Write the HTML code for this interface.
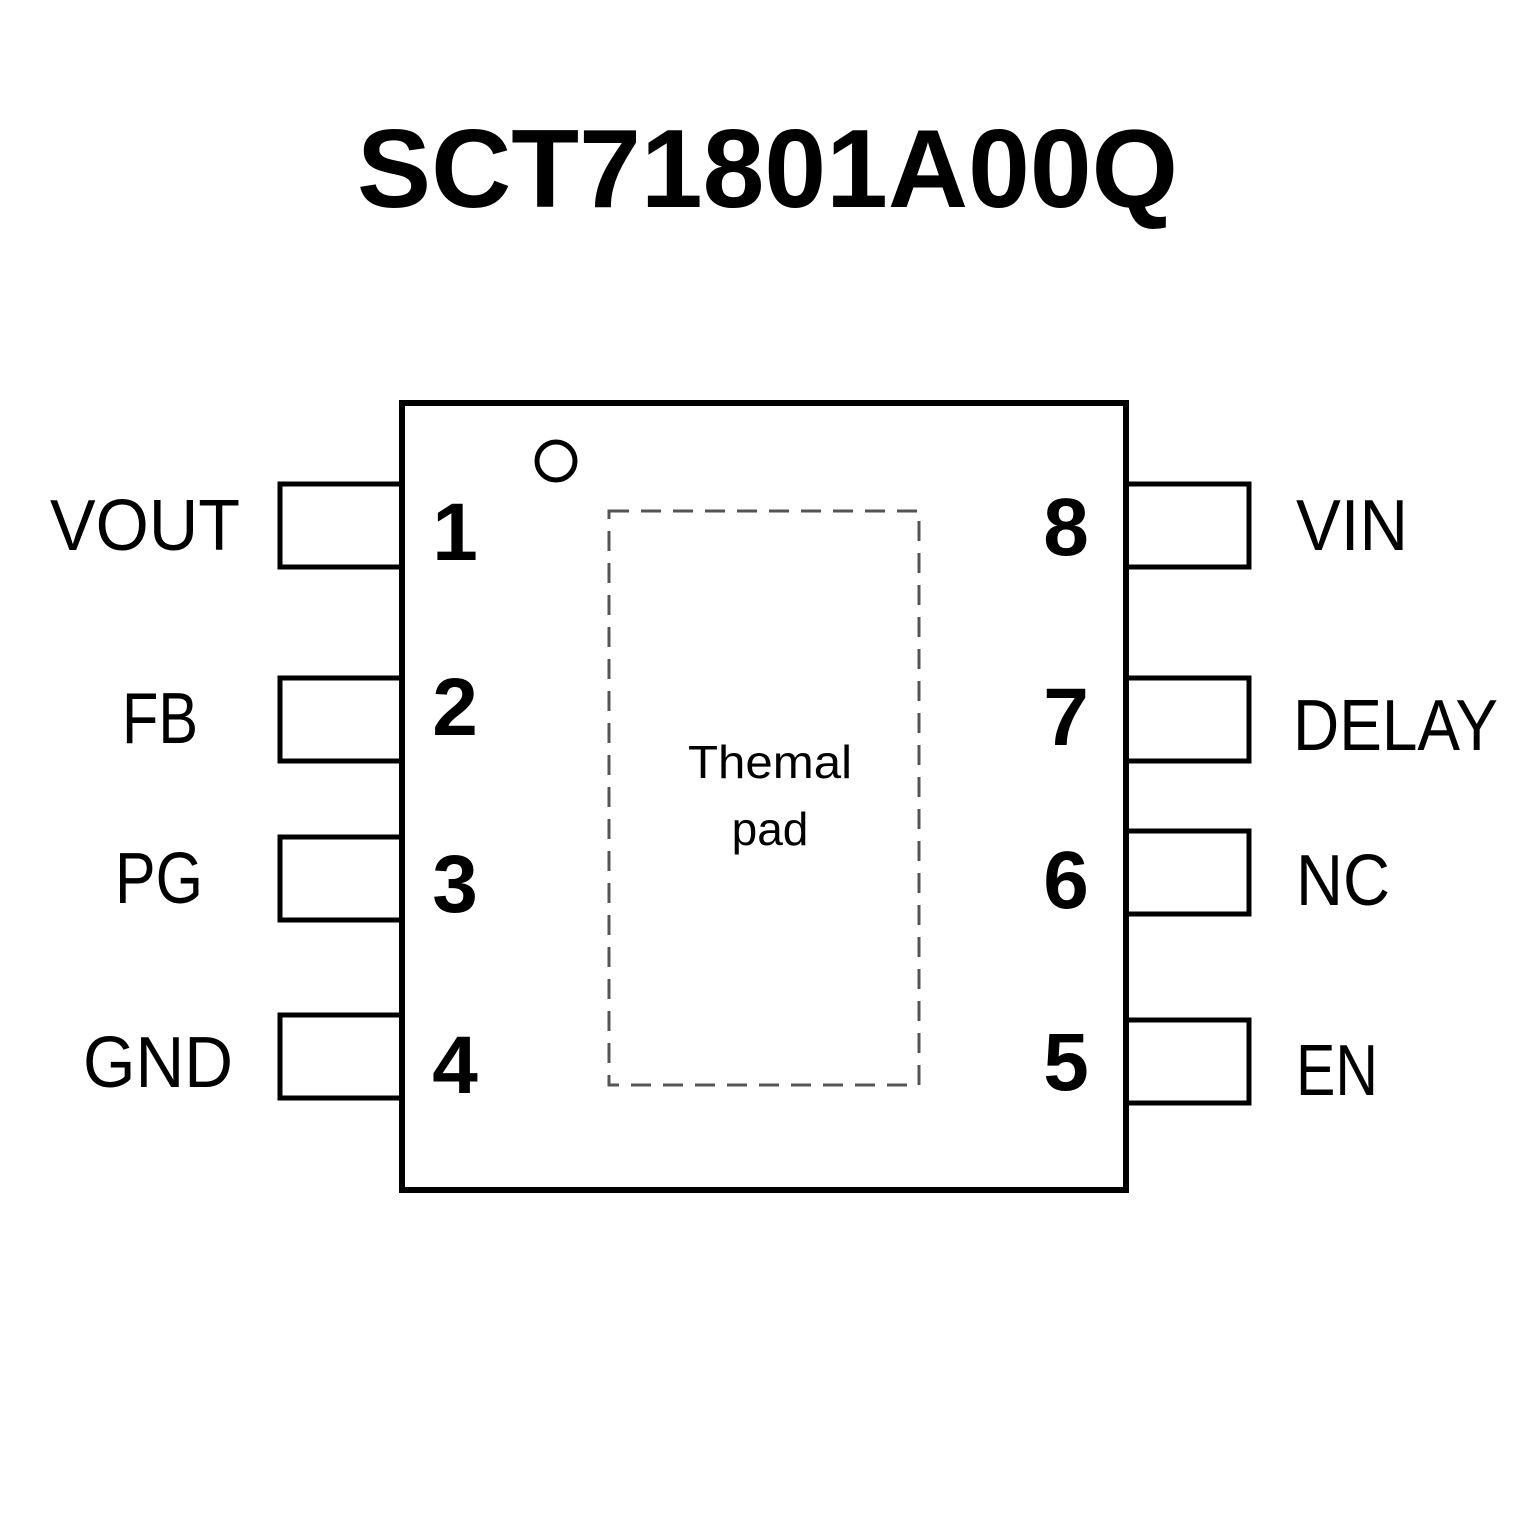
<!DOCTYPE html>
<html><head><meta charset="utf-8"><style>
html,body{margin:0;padding:0;background:#fff;}
svg{display:block;}
text{font-family:"Liberation Sans",sans-serif;fill:#000;}
.t{font-weight:bold;font-size:111px;}
.l{font-size:72px;}
.n{font-weight:bold;font-size:82px;}
.p{font-size:46px;}
</style></head><body>
<svg width="1535" height="1535" viewBox="0 0 1535 1535" xmlns="http://www.w3.org/2000/svg">
<rect width="1535" height="1535" fill="#fff"/>
<text class="t" x="357" y="207" textLength="821" lengthAdjust="spacingAndGlyphs">SCT71801A00Q</text>
<g fill="none" stroke="#000" stroke-width="5">
<rect x="280" y="484" width="122" height="83"/>
<rect x="280" y="678" width="122" height="83"/>
<rect x="280" y="837" width="122" height="83"/>
<rect x="280" y="1015" width="122" height="83"/>
<rect x="1126" y="484" width="123" height="83"/>
<rect x="1126" y="678" width="123" height="83"/>
<rect x="1126" y="831" width="123" height="83"/>
<rect x="1126" y="1020" width="123" height="83"/>
</g>
<rect x="402" y="403" width="724" height="787" fill="#fff" stroke="#000" stroke-width="6"/>
<circle cx="556" cy="461" r="19" fill="none" stroke="#000" stroke-width="5"/>
<rect x="609" y="511" width="310" height="574" fill="none" stroke="#555" stroke-width="3" stroke-dasharray="20 12"/>
<text class="p" x="688" y="778" textLength="164" lengthAdjust="spacingAndGlyphs">Themal</text>
<text class="p" x="770" y="845" text-anchor="middle">pad</text>
<text class="l" x="50" y="550" textLength="190" lengthAdjust="spacingAndGlyphs">VOUT</text>
<text class="l" x="122" y="743" textLength="76" lengthAdjust="spacingAndGlyphs">FB</text>
<text class="l" x="115" y="903" textLength="88" lengthAdjust="spacingAndGlyphs">PG</text>
<text class="l" x="83" y="1087" textLength="150" lengthAdjust="spacingAndGlyphs">GND</text>
<text class="l" x="1296" y="550" textLength="112" lengthAdjust="spacingAndGlyphs">VIN</text>
<text class="l" x="1293" y="750" textLength="205" lengthAdjust="spacingAndGlyphs">DELAY</text>
<text class="l" x="1296" y="905" textLength="94" lengthAdjust="spacingAndGlyphs">NC</text>
<text class="l" x="1296" y="1095" textLength="82" lengthAdjust="spacingAndGlyphs">EN</text>
<text class="n" x="455" y="560" text-anchor="middle">1</text>
<text class="n" x="455" y="735" text-anchor="middle">2</text>
<text class="n" x="455" y="912" text-anchor="middle">3</text>
<text class="n" x="455" y="1093" text-anchor="middle">4</text>
<text class="n" x="1066" y="555" text-anchor="middle">8</text>
<text class="n" x="1066" y="745" text-anchor="middle">7</text>
<text class="n" x="1066" y="908" text-anchor="middle">6</text>
<text class="n" x="1066" y="1090" text-anchor="middle">5</text>
</svg>
</body></html>
